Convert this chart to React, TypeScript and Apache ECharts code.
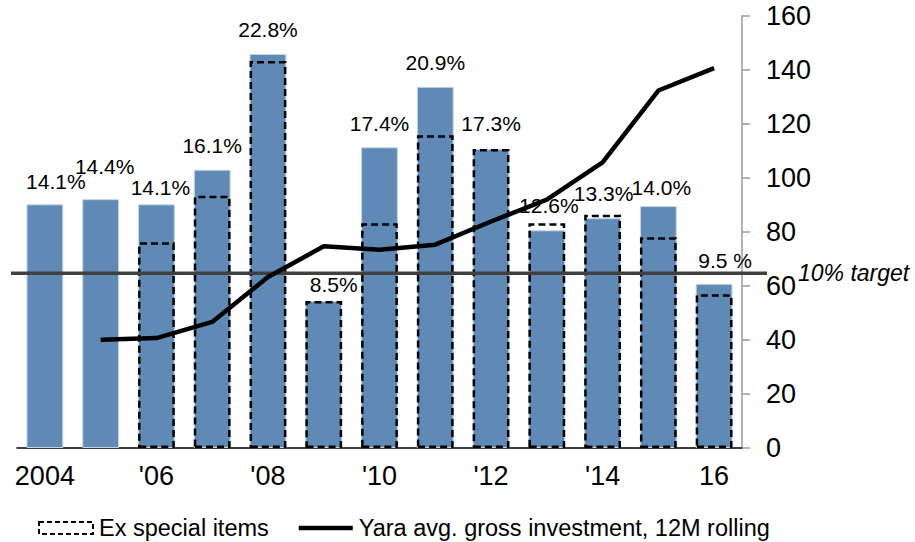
import React, { useEffect, useRef } from "react";
import * as echarts from "echarts";

const YEARS = ["2004", "2005", "2006", "2007", "2008", "2009", "2010", "2011", "2012", "2013", "2014", "2015", "2016"];
const TICK_LABELS = ["2004", "", "'06", "", "'08", "", "'10", "", "'12", "", "'14", "", "16"];
const ROIC = [14.1, 14.4, 14.1, 16.1, 22.8, 8.5, 17.4, 20.9, 17.3, 12.6, 13.3, 14.0, 9.5];
const ROIC_LABELS = ["14.1%", "14.4%", "14.1%", "16.1%", "22.8%", "8.5%", "17.4%", "20.9%", "17.3%", "12.6%", "13.3%", "14.0%", "9.5 %"];
const EX_SPECIAL = [null, null, 11.9, 14.6, 22.4, 8.5, 13.0, 18.1, 17.3, 13.0, 13.5, 12.2, 8.9];
const INVESTMENT = [null, 40.1, 40.7, 46.7, 63.3, 74.7, 73.4, 75.3, 83.9, 92.0, 105.8, 132.4, 140.7];
const TARGET = 10;
const RIGHT_TICKS = { min: 0, max: 160, interval: 20 };
const PCT_AXIS = { min: 0, max: 25 };

// label nudges (style only)
const NUDGE: number[][] = [[11, -7], [4, -17], [4, -1], [0, -9], [0, -9], [10, -1], [0, -8], [0, -9], [0, -10], [2, -9], [1, -9], [3, -3], [11, -8]];

const FONT = "'Liberation Sans', Arial, sans-serif";

export default function App() {
  const ref = useRef<HTMLDivElement>(null);
  useEffect(() => {
    document.body.style.margin = "0";
    const chart = echarts.init(ref.current!, null, { renderer: "svg" });
    chart.setOption({
      animation: false,
      textStyle: { fontFamily: FONT },
      grid: { left: 17, right: 173, top: 16, bottom: 94, containLabel: false },
      legend: {
        data: [
          {
            name: "Ex special items",
            icon: "rect",
            itemStyle: { color: "rgba(0,0,0,0)", borderColor: "#000", borderWidth: 2, borderType: [5, 3] },
          },
          {
            name: "Yara avg. gross investment, 12M rolling",
            icon: "path://M0,0 L56,0 L56,4.5 L0,4.5 Z",
            itemStyle: { color: "#000", borderWidth: 0 },
          },
        ],
        left: 33,
        top: 511,
        itemWidth: 54,
        itemHeight: 12,
        itemGap: 30,
        symbolKeepAspect: true,
        textStyle: { fontSize: 23.5, color: "#000", fontFamily: FONT, padding: [0, 0, 0, 1] },
      },
      xAxis: {
        type: "category",
        data: YEARS,
        axisLine: { lineStyle: { color: "#000", width: 1.5 } },
        axisTick: { show: false },
        axisLabel: {
          interval: 0,
          fontSize: 27,
          color: "#000",
          margin: 14,
          formatter: (_v: string, i: number) => TICK_LABELS[i],
        },
      },
      yAxis: [
        { type: "value", show: false, min: PCT_AXIS.min, max: PCT_AXIS.max, splitLine: { show: false } },
        {
          type: "value",
          position: "right",
          min: RIGHT_TICKS.min,
          max: RIGHT_TICKS.max,
          interval: RIGHT_TICKS.interval,
          axisLine: { show: true, lineStyle: { color: "#9a9a9a", width: 1.5 } },
          axisTick: { show: true, inside: false, length: 8, lineStyle: { color: "#9a9a9a", width: 1.5 } },
          splitLine: { show: false },
          axisLabel: { fontSize: 27, color: "#000", margin: 24 },
        },
      ],
      series: [
        {
          name: "ROIC",
          type: "bar",
          yAxisIndex: 0,
          barWidth: "66%",
          barGap: "-100%",
          z: 2,
          itemStyle: { color: "#5E8AB5", borderColor: "#c5d4e4", borderWidth: 1 },
          label: {
            show: true,
            position: "top",
            distance: 5,
            fontSize: 21,
            color: "#000",
            fontFamily: FONT,
            formatter: (p: any) => ROIC_LABELS[p.dataIndex],
          },
          data: ROIC.map((v, i) => ({ value: v, label: { offset: NUDGE[i] } })),
        },
        {
          name: "Ex special items",
          type: "bar",
          yAxisIndex: 0,
          barWidth: "66%",
          barGap: "-100%",
          z: 3,
          itemStyle: { color: "rgba(0,0,0,0)", borderColor: "#000", borderWidth: 2.5, borderType: [7, 4] },
          data: EX_SPECIAL,
        },
        {
          name: "Yara avg. gross investment, 12M rolling",
          type: "line",
          yAxisIndex: 1,
          z: 10,
          symbol: "none",
          lineStyle: { color: "#000", width: 4.5 },
          itemStyle: { color: "#000" },
          data: INVESTMENT,
        },
      ],
    });

    const y = (chart.convertToPixel({ yAxisIndex: 0 }, TARGET) as number) - 2;
    chart.setOption({
      graphic: [
        {
          type: "line",
          z: 5,
          shape: { x1: 11, y1: y, x2: 767, y2: y },
          style: { stroke: "#404040", lineWidth: 3.5 },
        },
        {
          type: "text",
          z: 5,
          x: 798,
          y: y,
          style: {
            text: "10% target",
            fontSize: 23,
            fontStyle: "italic",
            fontFamily: FONT,
            fill: "#000",
            verticalAlign: "middle",
          },
        },
      ],
    });
    return () => chart.dispose();
  }, []);
  return <div ref={ref} style={{ width: 915, height: 542 }} />;
}
